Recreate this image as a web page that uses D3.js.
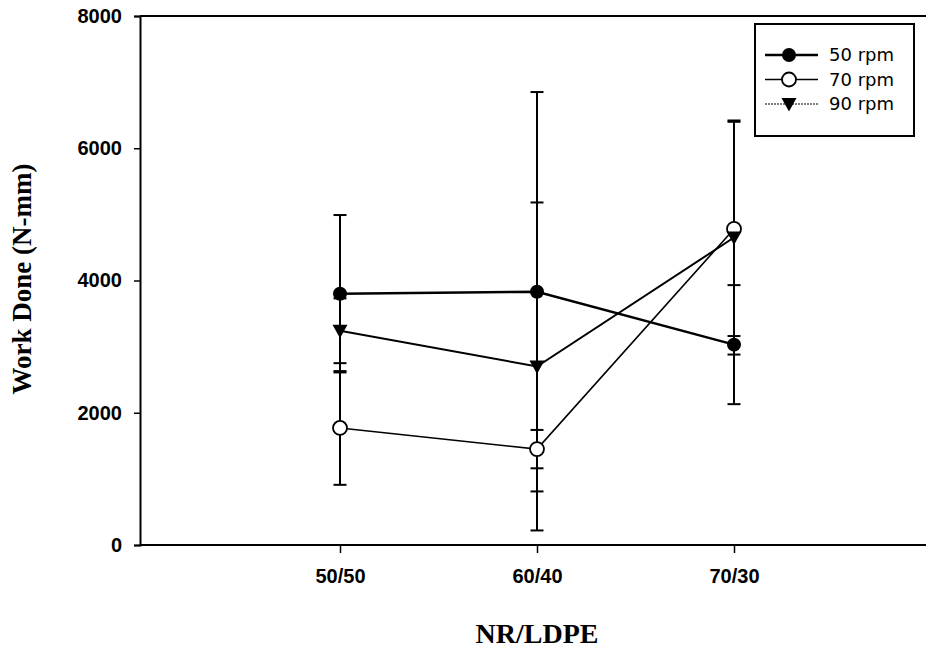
<!DOCTYPE html>
<html><head><meta charset="utf-8">
<script src="https://cdn.jsdelivr.net/npm/d3@7"></script>
<style>body{margin:0;background:#fff}</style>
</head><body><svg id="c" width="926" height="655"></svg>
<script>
const categories = ["50/50", "60/40", "70/30"];
const yTicks = [0, 2000, 4000, 6000, 8000];
const seriesNames = ["50 rpm", "70 rpm", "90 rpm"];
const rpm50 = [3800, 3830, 3030];
const rpm50Err = [1190, 3020, 900];
const rpm70 = [1770, 1450, 4780];
const rpm70Err = [860, 290, 1620];
const rpm90 = [3240, 2700, 4650];
const rpm90Err = [490, 2480, 1770];

const svg = d3.select("#c");
const x = d3.scaleLinear().domain([0, 4]).range([143, 931]);
const y = d3.scaleLinear().domain([0, 8000]).range([545, 16]);

// frame top line
svg.append("line").attr("x1", 140).attr("x2", 926).attr("y1", y(8000)).attr("y2", y(8000))
  .attr("stroke", "#000").attr("stroke-width", 2);

const yAxis = svg.append("g").attr("transform", "translate(140,0)")
  .call(d3.axisLeft(y).tickValues(yTicks).tickSize(6).tickPadding(12).tickFormat(d3.format("d")));
const xAxis = svg.append("g").attr("transform", "translate(0,545)")
  .call(d3.axisBottom(x).tickValues([1,2,3]).tickSize(8).tickFormat(d => categories[d-1]));
[yAxis, xAxis].forEach(g => {
  g.select(".domain").attr("stroke", "#000").attr("stroke-width", 2);
  g.selectAll(".tick line").attr("stroke", "#000").attr("stroke-width", 1.5);
  g.selectAll("text").attr("font-family", "Liberation Sans, Arial, sans-serif")
    .attr("font-weight", "bold").attr("font-size", 20).attr("fill", "#000");
});
xAxis.selectAll("text").attr("y", 38).attr("dy", 0);
xAxis.select(".domain").attr("d", "M140,0H926");

const series = [
  {vals: rpm50, err: rpm50Err, lw: 2.5, marker: "fcircle"},
  {vals: rpm70, err: rpm70Err, lw: 1.6, marker: "ocircle"},
  {vals: rpm90, err: rpm90Err, lw: 2, marker: "tri"}
];

// error bars
series.forEach(s => {
  s.vals.forEach((v, i) => {
    const cx = x(i + 1);
    svg.append("line").attr("x1", cx).attr("x2", cx)
      .attr("y1", y(v + s.err[i])).attr("y2", y(v - s.err[i]))
      .attr("stroke", "#000").attr("stroke-width", 2);
    [v + s.err[i], v - s.err[i]].forEach(e => {
      svg.append("line").attr("x1", cx - 6.5).attr("x2", cx + 6.5)
        .attr("y1", y(e)).attr("y2", y(e)).attr("stroke", "#000").attr("stroke-width", 2);
    });
  });
});

const line = d3.line().x((d, i) => x(i + 1)).y(d => y(d));
series.forEach(s => {
  svg.append("path").attr("d", line(s.vals)).attr("fill", "none")
    .attr("stroke", "#000").attr("stroke-width", s.lw);
});

function drawMarker(g, type, cx, cy) {
  if (type === "fcircle") g.append("circle").attr("cx", cx).attr("cy", cy).attr("r", 7).attr("fill", "#000");
  else if (type === "ocircle") g.append("circle").attr("cx", cx).attr("cy", cy).attr("r", 7)
    .attr("fill", "#fff").attr("stroke", "#000").attr("stroke-width", 1.8);
  else g.append("path").attr("d", `M${cx-7.5},${cy-6}L${cx+7.5},${cy-6}L${cx},${cy+7.5}Z`).attr("fill", "#000");
}
series.forEach(s => s.vals.forEach((v, i) => drawMarker(svg, s.marker, x(i + 1), y(v))));

// legend
const lg = svg.append("g");
lg.append("rect").attr("x", 755).attr("y", 24).attr("width", 159).attr("height", 112)
  .attr("fill", "#fff").attr("stroke", "#000").attr("stroke-width", 2);
seriesNames.forEach((n, i) => {
  const ly = 55 + i * 24.5;
  const s = series[i];
  lg.append("line").attr("x1", 765).attr("x2", 818).attr("y1", ly).attr("y2", ly)
    .attr("stroke", "#000").attr("stroke-width", i === 0 ? 2.5 : (i === 1 ? 1.6 : 1.2))
    .attr("stroke-dasharray", i === 2 ? "2,1" : null);
  drawMarker(lg, s.marker, 789, ly);
  lg.append("text").attr("x", 829).attr("y", ly + 6).text(n)
    .attr("font-family", "DejaVu Sans, sans-serif").attr("font-size", 18).attr("fill", "#000");
});

// axis titles
svg.append("text").attr("transform", "translate(31,279) rotate(-90)").attr("text-anchor", "middle")
  .attr("font-family", "Liberation Serif, Times New Roman, serif").attr("font-weight", "bold")
  .attr("font-size", 27).text("Work Done (N-mm)");
svg.append("text").attr("x", 537).attr("y", 643).attr("text-anchor", "middle")
  .attr("font-family", "Liberation Serif, Times New Roman, serif").attr("font-weight", "bold")
  .attr("font-size", 28).text("NR/LDPE");
</script></body></html>
